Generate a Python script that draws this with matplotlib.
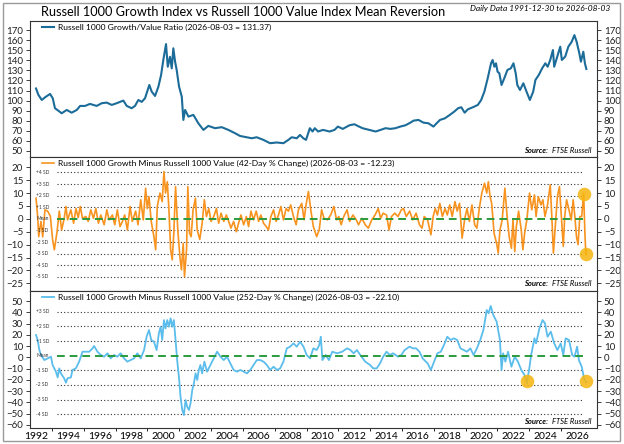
import matplotlib
matplotlib.use("Agg")
import matplotlib.pyplot as plt
from matplotlib.patches import Rectangle

plt.rcParams['font.family'] = ['Lato', 'DejaVu Sans']

# ---- data (decimal years) ----
ratio_years = [1992.00, 1992.15, 1992.36, 1992.57, 1992.88, 1993.05, 1993.19, 1993.40, 1993.61,
               1993.93, 1994.24, 1994.56, 1994.77, 1995.08, 1995.39, 1995.81, 1996.13, 1996.44,
               1996.76, 1997.07, 1997.49, 1997.70, 1998.01, 1998.22, 1998.43, 1998.64, 1998.85,
               1999.12, 1999.27, 1999.48, 1999.69, 1999.86, 2000.00, 2000.17, 2000.28, 2000.42,
               2000.53, 2000.63, 2000.74, 2000.84, 2000.99, 2001.16, 2001.26, 2001.37, 2001.58,
               2001.89, 2002.20, 2002.52, 2002.83, 2003.25, 2003.67, 2004.09, 2004.51, 2004.82,
               2005.24, 2005.56, 2005.87, 2006.29, 2006.71, 2007.13, 2007.55, 2007.86, 2008.07,
               2008.39, 2008.59, 2008.80, 2008.97, 2009.21, 2009.38, 2009.52, 2009.73, 2010.04,
               2010.45, 2010.76, 2010.97, 2011.28, 2011.70, 2012.01, 2012.21, 2012.52, 2012.94,
               2013.35, 2013.66, 2013.97, 2014.28, 2014.59, 2014.90, 2015.22, 2015.53, 2015.73,
               2016.04, 2016.35, 2016.66, 2016.98, 2017.18, 2017.39, 2017.70, 2018.01, 2018.28,
               2018.53, 2018.73, 2018.94, 2019.15, 2019.46, 2019.77, 2019.98, 2020.18, 2020.39,
               2020.60, 2020.70, 2020.81, 2020.91, 2021.01, 2021.12, 2021.26, 2021.43, 2021.63,
               2021.84, 2022.01, 2022.15, 2022.25, 2022.42, 2022.63, 2022.83, 2023.04, 2023.25,
               2023.39, 2023.60, 2023.81, 2024.01, 2024.16, 2024.32, 2024.49, 2024.57, 2024.73,
               2024.95, 2025.05, 2025.26, 2025.46, 2025.67, 2025.84, 2025.98, 2026.15, 2026.25,
               2026.40, 2026.50, 2026.59]
ratio_values = [112.0, 105.6, 100.6, 103.3, 106.6, 102.3, 92.4, 90.0, 87.4,
                90.7, 88.0, 90.7, 94.7, 94.7, 96.7, 94.7, 97.4, 98.0,
                95.7, 97.4, 100.0, 94.7, 92.4, 94.7, 100.6, 98.7, 102.3,
                115.5, 108.9, 104.6, 113.8, 125.4, 140.3, 156.1, 133.6, 143.5,
                132.0, 151.9, 138.6, 130.4, 113.8, 103.9, 80.8, 90.7, 84.1,
                85.8, 77.5, 70.9, 74.9, 72.6, 73.6, 70.9, 67.6, 64.9,
                63.6, 62.6, 63.6, 61.0, 57.7, 58.4, 57.7, 61.0, 63.6,
                62.6, 65.9, 62.6, 61.0, 72.6, 69.3, 72.6, 69.3, 70.9,
                69.3, 70.9, 74.2, 71.9, 75.5, 76.5, 74.9, 72.6, 70.9,
                69.3, 70.9, 72.6, 71.9, 72.6, 74.2, 75.5, 78.1, 80.1,
                80.8, 78.1, 77.5, 74.2, 77.5, 80.8, 82.4, 85.8, 89.0,
                92.4, 93.4, 88.0, 91.4, 93.4, 95.7, 100.6, 108.9, 122.1,
                137.0, 140.3, 133.6, 137.0, 128.7, 127.1, 115.5, 122.1, 130.4,
                132.0, 137.0, 127.1, 115.5, 110.5, 117.2, 108.9, 100.6, 108.9,
                120.5, 125.4, 132.0, 137.0, 133.6, 140.3, 150.2, 133.6, 141.9,
                153.5, 140.3, 143.6, 153.5, 158.4, 165.0, 158.4, 146.9, 138.6,
                148.5, 137.0, 131.37]

chg42_years = [1992.00, 1992.10, 1992.17, 1992.31, 1992.42, 1992.56, 1992.73, 1992.90, 1993.04,
               1993.15, 1993.32, 1993.46, 1993.61, 1993.77, 1993.88, 1993.98, 1994.19, 1994.36,
               1994.51, 1994.65, 1994.78, 1994.92, 1995.13, 1995.28, 1995.44, 1995.61, 1995.76,
               1995.92, 1996.07, 1996.28, 1996.45, 1996.59, 1996.80, 1996.95, 1997.11, 1997.28,
               1997.43, 1997.57, 1997.74, 1997.91, 1998.05, 1998.26, 1998.41, 1998.58, 1998.74,
               1998.89, 1998.99, 1999.10, 1999.24, 1999.41, 1999.52, 1999.62, 1999.79, 1999.93,
               2000.04, 2000.14, 2000.25, 2000.35, 2000.46, 2000.56, 2000.66, 2000.77, 2000.91,
               2001.04, 2001.14, 2001.25, 2001.33, 2001.46, 2001.54, 2001.65, 2001.75, 2001.87,
               2002.02, 2002.13, 2002.29, 2002.44, 2002.58, 2002.71, 2002.86, 2003.00, 2003.17,
               2003.34, 2003.48, 2003.63, 2003.80, 2003.96, 2004.11, 2004.25, 2004.42, 2004.59,
               2004.73, 2004.88, 2005.05, 2005.22, 2005.36, 2005.51, 2005.67, 2005.84, 2005.99,
               2006.13, 2006.30, 2006.47, 2006.61, 2006.76, 2006.93, 2007.09, 2007.24, 2007.39,
               2007.55, 2007.72, 2007.87, 2008.01, 2008.18, 2008.35, 2008.49, 2008.70, 2008.85,
               2008.97, 2009.12, 2009.27, 2009.43, 2009.64, 2009.80, 2009.95,
               2010.10, 2010.31, 2010.52, 2010.72, 2010.89, 2011.03, 2011.18, 2011.34, 2011.55,
               2011.71, 2011.92, 2012.13, 2012.27, 2012.48, 2012.69, 2012.89, 2013.10, 2013.31,
               2013.51, 2013.66, 2013.82, 2014.03, 2014.19, 2014.34, 2014.55, 2014.75, 2014.96,
               2015.10, 2015.27, 2015.48, 2015.68, 2015.89, 2016.10, 2016.26, 2016.40, 2016.61,
               2016.82, 2016.96, 2017.09, 2017.23, 2017.38, 2017.54, 2017.71, 2017.85, 2018.00,
               2018.16, 2018.33, 2018.47, 2018.62, 2018.78, 2018.95, 2019.09, 2019.24, 2019.40,
               2019.57, 2019.71, 2019.86, 2020.02, 2020.19, 2020.33, 2020.43, 2020.54, 2020.64,
               2020.79, 2020.95, 2021.05, 2021.16, 2021.30, 2021.47, 2021.61, 2021.74, 2021.88,
               2021.98, 2022.09, 2022.19, 2022.33, 2022.50, 2022.60, 2022.71, 2022.85, 2023.02,
               2023.16, 2023.33, 2023.43, 2023.57, 2023.74, 2023.86, 2023.99, 2024.15, 2024.32,
               2024.42, 2024.52, 2024.65, 2024.77, 2024.90, 2025.02, 2025.14, 2025.23, 2025.35,
               2025.50, 2025.64, 2025.76, 2025.87, 2025.97, 2026.07, 2026.18, 2026.30, 2026.42,
               2026.50, 2026.56, 2026.59]
chg42_values = [8.0, 0.9, -6.9, -1.0, -7.0, 3.5, 3.0, 1.0, -8.0,
                -12.0, -5.0, 3.0, -4.3, 0.2, 4.8, -0.4, 3.5, -1.7,
                4.0, 0.5, 4.8, 0.2, 0.9, -1.0, 3.5, 0.2, 4.0,
                -1.7, 1.5, -2.3, 3.5, -0.4, 1.5, -2.3, 3.5, -3.0,
                -1.0, 1.5, -4.3, 4.8, -1.0, 3.0, -2.3, 7.4, -0.4,
                11.9, 4.0, 8.6, -1.0, -6.9, -12.0, 4.8, 10.0, 6.7,
                18.3, 10.0, 14.4, 4.0, -12.0, -15.9, -5.6, 12.5, -4.3,
                -14.6, -19.8, -9.5, -22.4, -12.0, 12.5, -5.6, -6.9, 3.5,
                8.0, -4.3, -8.0, -1.7, 7.4, 0.9, 4.0, -1.0, 0.9,
                4.0, -1.7, 2.2, -1.0, 1.5, -1.0, -3.6, -1.0, -5.0,
                -1.7, 1.5, -2.3, 0.9, -3.0, 3.0, -0.4, 3.0, -1.0,
                1.5, -1.7, -3.0, -4.3, 0.9, 3.5, -1.0, 1.5, 4.8,
                -0.4, 4.0, 3.0, 5.4, 0.9, -2.3, 3.5, 6.0, -0.4,
                5.4, 10.6, 3.5, -3.0, -6.9, -4.3, 3.5,
                0.2, -0.4, 1.5, 4.8, -0.4, 0.9, -2.3, 0.9, 3.5,
                -1.0, 1.5, -0.4, -2.3, 0.2, -2.3, -3.6, -0.4, 1.5,
                4.0, 0.2, 2.2, 1.5, -4.3, 0.9, 2.2, 0.9, 3.5,
                4.0, 0.9, 3.0, -0.4, 2.2, -2.3, -3.6, 0.9, -0.4,
                -6.2, 0.9, 4.0, 1.5, 6.0, 0.9, 4.0, 1.5, 5.4,
                0.9, 6.7, 3.0, 6.0, -7.5, 0.2, 4.0, -1.0, 5.4,
                -2.3, -3.6, 4.0, 10.0, 13.8, 10.0, 14.4, 8.6, 6.0,
                -5.6, -9.5, -13.3, -4.3, -0.4, 11.9, 0.9, -6.9, -11.4,
                -0.4, -12.7, -3.0, 3.0, -4.3, -12.0, -5.6, -0.4, 10.0,
                3.5, 9.3, 0.9, 8.6, 5.4, 7.4, 0.9, 5.4, 13.2,
                0.9, -13.3, -1.7, 8.6, 12.5, 0.9, -10.7, 0.9, 7.4,
                3.5, -0.4, 7.4, 0.9, -6.9, -10.0, 0.9, 0.9, 10.0,
                -5.6, -14.0, -12.23]

chg252_years = [1992.00, 1992.10, 1992.21, 1992.31, 1992.52, 1992.73, 1992.94, 1993.04, 1993.25,
                1993.36, 1993.46, 1993.56, 1993.77, 1993.88, 1993.98, 1994.19, 1994.29, 1994.50,
                1994.71, 1994.92, 1995.13, 1995.34, 1995.55, 1995.65, 1995.86, 1996.07, 1996.28,
                1996.49, 1996.70, 1996.90, 1997.11, 1997.32, 1997.53, 1997.74, 1997.95, 1998.16,
                1998.37, 1998.58, 1998.79, 1998.95, 1999.10, 1999.24, 1999.41, 1999.58, 1999.72,
                1999.83, 1999.93, 2000.04, 2000.14, 2000.25, 2000.35, 2000.46, 2000.56, 2000.66,
                2000.77, 2000.87, 2000.98, 2001.08, 2001.19, 2001.29, 2001.40, 2001.50, 2001.61,
                2001.71, 2001.82, 2001.92, 2002.03, 2002.13, 2002.23, 2002.33, 2002.44, 2002.58,
                2002.75, 2002.96, 2003.17, 2003.38, 2003.59, 2003.80, 2004.00, 2004.21, 2004.42,
                2004.63, 2004.84, 2005.05, 2005.26, 2005.47, 2005.67, 2005.88, 2006.09, 2006.30,
                2006.51, 2006.72, 2006.93, 2007.14, 2007.34, 2007.55, 2007.76, 2007.97, 2008.18,
                2008.39, 2008.60, 2008.81, 2009.01, 2009.22, 2009.43, 2009.64, 2009.80, 2009.90,
                2010.00, 2010.21, 2010.41, 2010.62, 2010.93, 2011.24, 2011.55, 2011.76, 2011.96,
                2012.17, 2012.38, 2012.69, 2013.00, 2013.20, 2013.41, 2013.62, 2013.82, 2014.03,
                2014.24, 2014.44, 2014.75, 2014.96, 2015.17, 2015.48, 2015.68, 2015.89, 2016.10,
                2016.30, 2016.61, 2016.82, 2017.02, 2017.23, 2017.44, 2017.64, 2017.85, 2018.06,
                2018.26, 2018.47, 2018.68, 2018.88, 2019.09, 2019.30, 2019.50, 2019.71, 2019.92,
                2020.12, 2020.33, 2020.45, 2020.58, 2020.74, 2020.95, 2021.16, 2021.26, 2021.36,
                2021.50, 2021.67, 2021.88, 2022.09, 2022.29, 2022.50, 2022.71, 2022.85, 2023.02,
                2023.12, 2023.33, 2023.43, 2023.64, 2023.84, 2023.99, 2024.15, 2024.36, 2024.57,
                2024.77, 2024.98, 2025.14, 2025.29, 2025.50, 2025.70, 2025.85, 2026.01, 2026.12,
                2026.30, 2026.47, 2026.59]
chg252_values = [19.8, 15.4, 6.5, 2.1, -2.4, -0.9, 0.6, -6.8, -12.7,
                 -17.8, -9.8, -14.2, -18.6, -22.5, -18.6, -17.8, -11.2, -9.8,
                 -3.8, 5.0, 5.0, 5.0, 8.0, 10.1, 5.0, 2.1, 0.6,
                 3.6, -0.9, 2.1, 0.6, 3.6, -0.9, -3.8, -2.4, -0.9,
                 3.6, -0.9, 6.5, 18.3, 24.3, 15.4, 13.9, 6.5, 21.3,
                 27.2, 15.4, 33.1, 25.7, 33.1, 27.2, 34.6, 27.2, 33.1,
                 15.4, -2.4, -17.2, -34.9, -46.7, -51.2, -37.9, -43.8, -46.7,
                 -40.8, -29.0, -23.1, -14.2, -20.1, -11.2, -6.8, -14.2, -3.8,
                 -12.7, -6.8, -0.9, 5.0, 0.6, -2.4, 0.6, -5.3, -11.2,
                 -12.7, -11.2, -12.7, -14.2, -11.2, -6.8, -2.4, -2.4, -3.8,
                 -6.8, -11.2, -8.3, -11.2, -9.8, -3.8, 8.0, 9.5, 12.4,
                 9.5, 13.9, 9.5, 2.1, -0.9, 8.0, 6.5, 10.9, 18.3,
                 -2.4, 2.1, -2.4, 5.0, 3.6, 5.0, 8.0, 6.5, 3.6,
                 6.5, 2.1, -3.8, -6.8, -9.8, -9.8, -5.3, 0.6, 5.0,
                 2.1, 3.6, 0.6, 2.1, 6.5, 9.5, 8.0, 8.0, 5.0,
                 -0.9, -5.3, -11.2, -3.8, 3.6, 5.0, 10.9, 18.3, 15.4,
                 16.9, 15.4, 8.0, 6.5, 5.0, 8.0, 2.1, 8.0, 15.4,
                 24.3, 42.0, 39.1, 45.6, 37.6, 31.7, 15.4, -11.2, 3.6,
                 -3.8, 5.0, -8.3, 0.6, -3.8, -11.2, -15.7, -23.1, -8.3,
                 2.1, 16.9, 12.4, 25.7, 33.1, 30.2, 18.3, 22.8, 12.4,
                 6.5, 12.4, 2.1, 16.9, 15.4, 2.1, 0.6, 9.5, -2.4,
                 -8.3, -20.1, -22.10]

ratio_ticks = list(range(50, 171, 10))
chg42_ticks = list(range(-25, 21, 5))
chg252_ticks = list(range(-60, 51, 10))
year_ticks = list(range(1992, 2027, 2))

chg42_sd_labels = ['+4 SD', '+3 SD', '+2 SD', '+1 SD', 'Mean', '-1 SD', '-2 SD', '-3 SD', '-4 SD', '-5 SD']
chg42_sd_levels = [18.0, 13.5, 9.0, 4.5, 0.0, -4.5, -9.0, -13.5, -18.0, -22.5]
chg252_sd_labels = ['+3 SD', '+2 SD', '+1 SD', 'Mean', '-1 SD', '-2 SD', '-3 SD', '-4 SD']
chg252_sd_levels = [40.5, 27.5, 14.5, 1.5, -11.5, -24.5, -37.5, -50.5]

chg42_marks_x = [2026.42, 2026.57]
chg42_marks_y = [9.5, -13.7]
chg252_marks_x = [2022.85, 2026.56]
chg252_marks_y = [-21.0, -21.0]

# ---- figure ----
W, H = 624, 444
fig = plt.figure(figsize=(W / 100, H / 100), dpi=100)


def panel(top, bottom):
    return fig.add_axes([30 / W, 1 - bottom / H, 567 / W, (bottom - top) / H])


ax1 = panel(21, 157)
ax2 = panel(157, 291)
ax3 = panel(291, 428)

ax1.plot(ratio_years, ratio_values, color='#1c6c99', lw=1.5,
         label='Russell 1000 Growth/Value Ratio (2026-08-03 = 131.37)')
ax2.plot(chg42_years, chg42_values, color='#f7931e', lw=1.2,
         label='Russell 1000 Growth Minus Russell 1000 Value (42-Day % Change) (2026-08-03 = -12.23)')
ax3.plot(chg252_years, chg252_values, color='#5bbdeb', lw=1.3,
         label='Russell 1000 Growth Minus Russell 1000 Value (252-Day % Change) (2026-08-03 = -22.10)')

for ax, labels, levels in [(ax2, chg42_sd_labels, chg42_sd_levels),
                           (ax3, chg252_sd_labels, chg252_sd_levels)]:
    for lab, lev in zip(labels, levels):
        if lab == 'Mean':
            ax.hlines(lev, 1993.3, 2026.4, colors='#2a9b3c', linestyles=(0, (4, 2.5)), lw=1.4, zorder=3)
        else:
            ax.hlines(lev, 1993.3, 2026.4, colors='#333333', linestyles=(0, (1, 2)), lw=0.8, zorder=1)
        ax.text(1992.0, lev, lab, fontsize=3.5, va='center', ha='left', color='#333333')

ax2.scatter(chg42_marks_x, chg42_marks_y, s=95, color='#f6b50e', alpha=0.85, zorder=5, lw=0)
ax3.scatter(chg252_marks_x, chg252_marks_y, s=95, color='#f6b50e', alpha=0.85, zorder=5, lw=0)

ax1.set_ylim(44, 179)
ax2.set_ylim(-28, 24)
ax3.set_ylim(-62.7, 58.9)
ax1.set_yticks(ratio_ticks)
ax2.set_yticks(chg42_ticks)
ax3.set_yticks(chg252_ticks)

for ax in (ax1, ax2, ax3):
    ax.set_xlim(1991.62, 2027.26)
    for s in ax.spines.values():
        s.set_color('#333333')
        s.set_linewidth(0.8)
    ax.tick_params(axis='y', left=True, right=True, labelleft=True, labelright=True,
                   labelsize=7, length=3, width=0.6, pad=2, colors='#222222')
    ax.legend(loc='upper left', bbox_to_anchor=(0.018, 0.99), frameon=False, fontsize=6.1,
              handlelength=1.4, handletextpad=0.5, borderpad=0.2, borderaxespad=0)
    ax.annotate('FTSE Russell', xy=(1, 0), xycoords='axes fraction', xytext=(-5, 7),
                textcoords='offset pixels', ha='right', va='center', fontsize=5.5, style='italic')
    ax.annotate('Source:', xy=(1, 0), xycoords='axes fraction', xytext=(-49, 7),
                textcoords='offset pixels', ha='right', va='center', fontsize=5.5,
                style='italic', weight='bold')

ax1.set_xticks([])
ax2.set_xticks([])
ax3.set_xticks(year_ticks)
ax3.set_xticks(list(range(1993, 2027, 2)), minor=True)
ax3.tick_params(axis='x', which='major', length=0, labelsize=7.5, pad=3)
ax3.tick_params(axis='x', which='minor', length=2.5, width=0.6)

fig.text(243 / W, 1 - 12.5 / H, 'Russell 1000 Growth Index vs Russell 1000 Value Index Mean Reversion',
         ha='center', va='center', fontsize=9.2)
fig.text(610 / W, 1 - 8.5 / H, 'Daily Data 1991-12-30 to 2026-08-03', ha='right', va='center',
         fontsize=6, style='italic')

fig.add_artist(Rectangle((3 / W, 3 / H), 617 / W, 438 / H, transform=fig.transFigure,
                         fill=False, edgecolor='#9a9a9a', lw=1))

fig.savefig('out.png', dpi=100)
plt.close(fig)
